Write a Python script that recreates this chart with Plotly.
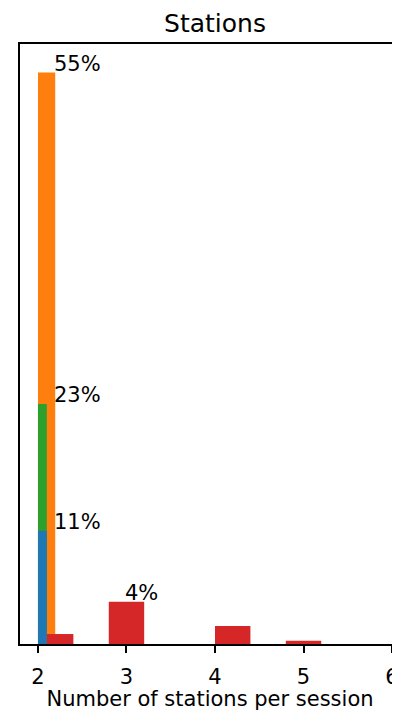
import plotly.graph_objects as go

# Data (percent of sessions), bars given by left bin edge
blue_x = [2.0]
blue_y = [10.9]
green_x = [2.0]
green_y = [23.1]
orange_x = [2.0]
orange_y = [55.0]
red_x = [2.1, 2.8, 4.0, 4.8]
red_y = [0.96, 4.07, 1.73, 0.32]

x_ticks = [2, 3, 4, 5, 6]

FONT = "DejaVu Sans"
W, H = 392, 703  # page body has an 8px margin

fig = go.Figure()
fig.add_trace(go.Bar(x=orange_x, y=orange_y, width=[0.195], offset=0,
                     marker=dict(color="#ff7f0e", line=dict(width=0)), name="orange"))
fig.add_trace(go.Bar(x=green_x, y=green_y, width=[0.1], offset=0,
                     marker=dict(color="#2ca02c", line=dict(width=0)), name="green"))
fig.add_trace(go.Bar(x=blue_x, y=blue_y, width=[0.1], offset=0,
                     marker=dict(color="#1f77b4", line=dict(width=0)), name="blue"))
fig.add_trace(go.Bar(x=red_x, y=red_y, width=[0.3, 0.4, 0.4, 0.4], offset=0,
                     marker=dict(color="#d62728", line=dict(width=0)), name="red"))

labels = [(orange_x[0], orange_y[0]), (green_x[0], green_y[0]),
          (blue_x[0], blue_y[0]), (red_x[1], red_y[1])]
for lx, ly in labels:
    fig.add_annotation(x=lx + 0.16, y=ly, text=f"{round(ly)}%", showarrow=False,
                       xanchor="left", yanchor="bottom", yshift=-5,
                       font=dict(family=FONT, size=21, color="black"))

fig.update_layout(
    width=W, height=H,
    margin=dict(l=12, r=0, t=36, b=67),
    barmode="overlay",
    showlegend=False,
    plot_bgcolor="white", paper_bgcolor="white",
    font=dict(family=FONT, size=21, color="black"),
    title=dict(text="Stations", x=207/W, xref="container", xanchor="center",
               y=1 - 15/H, yref="container", yanchor="middle",
               font=dict(family=FONT, size=25, color="black")),
)
fig.update_xaxes(range=[1.797, 6.09], tickvals=x_ticks, ticktext=[str(t) for t in x_ticks],
                 ticks="outside", ticklen=7, tickwidth=1.5, tickcolor="black",
                 ticklabelstandoff=6,
                 showline=True, linecolor="black", linewidth=1.5, mirror=True,
                 showgrid=False, zeroline=False, automargin=False,
                 tickfont=dict(family=FONT, size=21, color="black"),
                 title=dict(text="Number of stations per session", standoff=8,
                            font=dict(family=FONT, size=21, color="black")))
fig.update_yaxes(range=[0, 57.75], showticklabels=False, ticks="",
                 showline=True, linecolor="black", linewidth=1.5, mirror=False,
                 showgrid=False, zeroline=False, automargin=False)

fig.write_html("out.html")
